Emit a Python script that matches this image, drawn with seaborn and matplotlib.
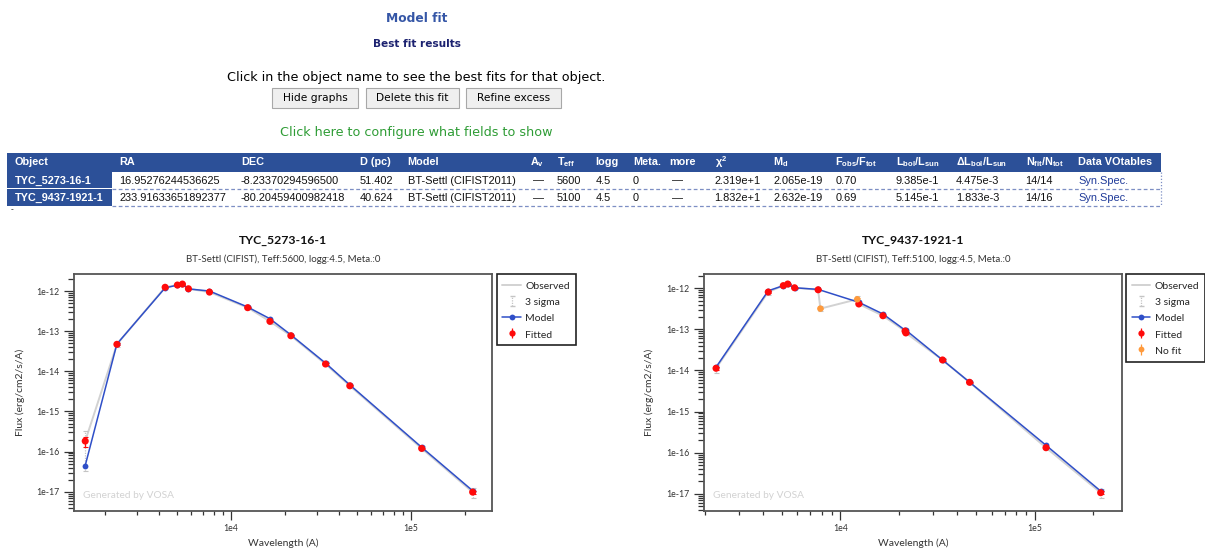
import numpy as np
import pandas as pd
import matplotlib
matplotlib.use("Agg")
import matplotlib.pyplot as plt
import matplotlib.ticker as mticker
import seaborn as sns
from matplotlib.lines import Line2D
from matplotlib.patches import Rectangle

# ---------------- data ----------------
table_columns = ["Object", "RA", "DEC", "D (pc)", "Model", "A$_{v}$", "T$_{eff}$", "logg", "Meta.",
                 "more", "χ$^{2}$", "M$_{d}$", "F$_{obs}$/F$_{tot}$", "L$_{bol}$/L$_{sun}$",
                 "ΔL$_{bol}$/L$_{sun}$", "N$_{fit}$/N$_{tot}$", "Data VOtables"]
table_row1 = ["TYC_5273-16-1", "16.95276244536625", "-8.23370294596500", "51.402", "BT-Settl (CIFIST2011)",
              "—", "5600", "4.5", "0", "—", "2.319e+1", "2.065e-19", "0.70", "9.385e-1", "4.475e-3",
              "14/14", "Syn.Spec."]
table_row2 = ["TYC_9437-1921-1", "233.91633651892377", "-80.20459400982418", "40.624", "BT-Settl (CIFIST2011)",
              "—", "5100", "4.5", "0", "—", "1.832e+1", "2.632e-19", "0.69", "5.145e-1", "1.833e-3",
              "14/16", "Syn.Spec."]
buttons = ["Hide graphs", "Delete this fit", "Refine excess"]

titles = ["TYC_5273-16-1", "TYC_9437-1921-1"]
subtitles = ["BT-Settl (CIFIST), Teff:5600, logg:4.5, Meta.:0",
             "BT-Settl (CIFIST), Teff:5100, logg:4.5, Meta.:0"]

# object 1 (all fitted)
wl1 = [1549, 2323, 4305, 5036, 5370, 5800, 7590, 12370, 16450, 21500, 33500, 45700, 114600, 220000]
obs1 = [1.83e-16, 4.7e-14, 1.24e-12, 1.41e-12, 1.49e-12, 1.14e-12, 9.4e-13, 3.85e-13, 1.76e-13,
        7.7e-14, 1.52e-14, 4.36e-15, 1.2e-16, 9.8e-18]
err1 = [5e-17, 2.5e-15, 4e-14, 3e-14, 4e-14, 1.5e-14, 2e-14, 1e-14, 8e-15, 3e-15, 6e-16, 1.5e-16,
        5e-18, 9e-19]
mod1 = [4.5e-17, 4.8e-14, 1.2e-12, 1.40e-12, 1.47e-12, 1.13e-12, 1.0e-12, 4.0e-13, 2.04e-13,
        8.1e-14, 1.6e-14, 4.6e-15, 1.28e-16, 1.06e-17]
wl1_nofit, obs1_nofit, err1_nofit = [], [], []

# object 2
wl2 = [2286, 4246, 5075, 5350, 5800, 7670, 12430, 16540, 21500, 21700, 33540, 46200, 114400, 218800]
obs2 = [1.13e-14, 8.1e-13, 1.16e-12, 1.27e-12, 1.03e-12, 9.2e-13, 4.15e-13, 2.15e-13, 9.1e-14,
        8.2e-14, 1.8e-14, 5.15e-15, 1.32e-16, 1.06e-17]
err2 = [8e-16, 4e-14, 2e-14, 3e-14, 1.5e-14, 1.5e-14, 1e-14, 8e-15, 4e-15, 3e-15, 6e-16, 1.2e-16,
        5e-18, 9e-19]
mod2 = [1.2e-14, 8.7e-13, 1.16e-12, 1.25e-12, 1.03e-12, 9.4e-13, 4.56e-13, 2.37e-13, 9.6e-14,
        9.6e-14, 1.8e-14, 5.2e-15, 1.51e-16, 1.16e-17]
wl2_nofit = [7880, 12200]
obs2_nofit = [3.2e-13, 5.4e-13]
err2_nofit = [1.4e-14, 3.7e-14]

# ---------------- style ----------------
W, H = 1205, 551
sns.set_style("ticks")
plt.rcParams["font.family"] = ["Lato", "DejaVu Sans"]
plt.rcParams.update({"mathtext.fontset": "custom", "mathtext.rm": "Liberation Sans:bold",
                     "mathtext.default": "rm"})

C_OBS = "#d2d2d2"
C_MOD = "#2f4fc8"
C_FIT = "#ff0a0a"
C_NOFIT = "#ff9a3c"
C_HEAD = "#2c5098"

fig = plt.figure(figsize=(W / 100, H / 100), dpi=100)


def fx(x):
    return x / W


def fy(y):
    return 1 - y / H


def ftext(x, y, s, **kw):
    kw.setdefault("va", "center")
    fig.text(fx(x), fy(y), s, **kw)


def frect(x0, y0, x1, y1, **kw):
    fig.add_artist(Rectangle((fx(x0), fy(y1)), (x1 - x0) / W, (y1 - y0) / H,
                             transform=fig.transFigure, **kw))


# ---------------- page header ----------------
WEB = ["DejaVu Sans"]
ftext(416.5, 19, "Model fit", ha="center", fontsize=8.8, fontweight="bold", color="#3556a6", family=WEB)
ftext(416.5, 44, "Best fit results", ha="center", fontsize=7.6, fontweight="bold", color="#1c2270", family=WEB)
ftext(416, 77.5, "Click in the object name to see the best fits for that object.", ha="center",
      fontsize=9.2, color="black", family=WEB)
btn_x = [(272.3, 357.7), (365.7, 458.7), (466.3, 560.7)]
for (x0, x1), lab in zip(btn_x, buttons):
    frect(x0, 88.3, x1, 107.7, facecolor="#efefef", edgecolor="#a8a8a8", lw=0.8)
    ftext((x0 + x1) / 2, 98.2, lab, ha="center", fontsize=7.7, color="black", family=WEB)
ftext(416, 132.5, "Click here to configure what fields to show", ha="center", fontsize=9.2,
      color="#2e9c35", family=WEB)

# ---------------- table ----------------
TAB = ["Liberation Sans", "DejaVu Sans"]
col_x = [15, 119, 241, 359.5, 407.5, 530, 557, 595.5, 632.8, 669.2, 714.6, 773, 835.4, 896, 956, 1025.5, 1078]
frect(7, 153.3, 1160.7, 171.7, facecolor=C_HEAD, edgecolor="none")
frect(7, 171.7, 111.7, 188.4, facecolor=C_HEAD, edgecolor="none")
frect(7, 189.4, 111.7, 206.2, facecolor=C_HEAD, edgecolor="none")
for yl in (188.8, 206.4):
    fig.add_artist(Line2D([fx(111.7), fx(1160.7)], [fy(yl), fy(yl)], transform=fig.transFigure,
                          color="#7d8fc4", lw=0.9, ls=(0, (3, 2))))
fig.add_artist(Line2D([fx(1160.7), fx(1160.7)], [fy(171.7), fy(206.4)], transform=fig.transFigure,
                      color="#7d8fc4", lw=0.9, ls=(0, (1, 1.5))))
for x, c in zip(col_x, table_columns):
    ftext(x, 162.3, c, ha="left", fontsize=7.8, fontweight="bold", color="white", family=TAB)
for yrow, row in ((180.6, table_row1), (197.7, table_row2)):
    for i, (x, v) in enumerate(zip(col_x, row)):
        if i == 0:
            ftext(x, yrow, v, ha="left", fontsize=7.8, fontweight="bold", color="white", family=TAB)
        elif i == len(row) - 1:
            ftext(x, yrow, v, ha="left", fontsize=7.9, color="#1f3a99", family=TAB)
        else:
            ftext(x + (3 if v == "—" else 0), yrow, v, ha="left", fontsize=7.9, color="#111111", family=TAB)
ftext(11, 210, "-", ha="left", fontsize=6, color="black", family=TAB)


# ---------------- SED panels ----------------
def sed_panel(ax, wl_fit, obs_fit, err_fit, mod_fit, wl_nf, obs_nf, err_nf, xlim, ylim):
    ax.set_xscale("log")
    ax.set_yscale("log")
    all_wl = np.r_[wl_fit, wl_nf]
    all_obs = np.r_[obs_fit, obs_nf]
    all_err = np.r_[err_fit, err_nf]
    obs_df = pd.DataFrame({"wl": all_wl, "flux": all_obs})
    sns.lineplot(data=obs_df, x="wl", y="flux", color=C_OBS, lw=1.4, estimator=None, sort=True,
                 ax=ax, zorder=1)
    e3 = ax.errorbar(all_wl, all_obs, yerr=3 * all_err, fmt="none", ecolor="#c4c4c4", elinewidth=0.9,
                     capsize=1.8, capthick=0.8, zorder=2)
    e3[2][0].set_linestyle((0, (1, 1)))
    mod_df = pd.DataFrame({"wl": wl_fit, "flux": mod_fit})
    sns.lineplot(data=mod_df, x="wl", y="flux", color=C_MOD, lw=1.1, marker="o", markersize=4.2,
                 markeredgewidth=0, estimator=None, sort=True, ax=ax, zorder=3)
    ax.errorbar(wl_fit, obs_fit, yerr=err_fit, fmt="none", ecolor=C_FIT, elinewidth=0.9, capsize=1.8,
                capthick=0.8, zorder=4)
    sns.scatterplot(x=list(wl_fit), y=list(obs_fit), color=C_FIT, s=26, edgecolor="none", ax=ax, zorder=5)
    if len(wl_nf):
        ax.errorbar(wl_nf, obs_nf, yerr=err_nf, fmt="none", ecolor=C_NOFIT, elinewidth=0.9, capsize=1.8,
                    capthick=0.8, zorder=4)
        sns.scatterplot(x=list(wl_nf), y=list(obs_nf), color=C_NOFIT, s=22, edgecolor="none", ax=ax, zorder=5)
    ax.set_xlim(*xlim)
    ax.set_ylim(*ylim)
    ax.xaxis.set_major_locator(mticker.FixedLocator([1e4, 1e5]))
    ax.xaxis.set_major_formatter(mticker.FixedFormatter(["1e4", "1e5"]))
    ax.xaxis.set_minor_locator(mticker.LogLocator(base=10, subs=np.arange(2, 10), numticks=30))
    ax.xaxis.set_minor_formatter(mticker.NullFormatter())
    ax.yaxis.set_major_locator(mticker.LogLocator(base=10, numticks=30))
    ax.yaxis.set_major_formatter(mticker.FuncFormatter(lambda v, p: "1e%d" % int(round(np.log10(v)))))
    ax.yaxis.set_minor_locator(mticker.LogLocator(base=10, subs=np.arange(2, 10), numticks=30))
    ax.yaxis.set_minor_formatter(mticker.NullFormatter())
    ax.tick_params(which="major", direction="out", length=7.5, width=0.9, labelsize=6.3, pad=3,
                   color="#333333", labelcolor="#333333")
    ax.tick_params(which="minor", direction="out", length=4, width=0.9, color="#333333")
    ax.tick_params(axis="x", which="major", length=6.5)
    ax.tick_params(axis="x", which="minor", length=3)
    for s in ax.spines.values():
        s.set_color("#555555")
        s.set_linewidth(1.3)
    ax.text(0.022, 0.063, "Generated by VOSA", transform=ax.transAxes, fontsize=7.3, color="#d2d2d2",
            va="center", ha="left")


def legend_for(ax, with_nofit, x_left):
    hnan = [np.nan]
    h3 = ax.errorbar(hnan, hnan, yerr=hnan, fmt="none", ecolor="#c4c4c4", elinewidth=0.9, capsize=1.8)
    h3[2][0].set_linestyle((0, (1, 1)))
    hf = ax.errorbar(hnan, hnan, yerr=hnan, fmt="o", color=C_FIT, ms=4.5, mew=0, elinewidth=0.9, capsize=1.8)
    handles = [Line2D([], [], color=C_OBS, lw=1.4), h3,
               Line2D([], [], color=C_MOD, lw=1.1, marker="o", ms=4.2, mew=0), hf]
    labels = ["Observed", "3 sigma", "Model", "Fitted"]
    if with_nofit:
        hn = ax.errorbar(hnan, hnan, yerr=hnan, fmt="o", color=C_NOFIT, ms=4.2, mew=0, elinewidth=0.9,
                         capsize=1.8)
        handles.append(hn)
        labels.append("No fit")
    leg = ax.legend(handles, labels, loc="upper left", bbox_to_anchor=(fx(x_left), fy(274.3)),
                    bbox_transform=fig.transFigure, frameon=True, fancybox=False, edgecolor="#222222",
                    fontsize=7.5, borderaxespad=0, borderpad=0.55, handlelength=1.75, handletextpad=0.45,
                    handleheight=1.25, labelspacing=0.5, framealpha=1)
    leg.get_frame().set_linewidth(1.2)


panels = [
    dict(ax_x=(74.3, 492.3), leg_x=496.7, wl=wl1, obs=obs1, err=err1, mod=mod1,
         wlnf=wl1_nofit, obsnf=obs1_nofit, errnf=err1_nofit,
         xlim=(1347, 282900), ylim=(3.37e-18, 2.61e-12), ylab_x=20),
    dict(ax_x=(704.3, 1121.7), leg_x=1126, wl=wl2, obs=obs2, err=err2, mod=mod2,
         wlnf=wl2_nofit, obsnf=obs2_nofit, errnf=err2_nofit,
         xlim=(1989, 280800), ylim=(3.86e-18, 2.19e-12), ylab_x=649),
]
AX_TOP, AX_BOT = 274.3, 510.7
for i, p in enumerate(panels):
    x0, x1 = p["ax_x"]
    aw, ah = x1 - x0, AX_BOT - AX_TOP
    ax = fig.add_axes([fx(x0), fy(AX_BOT), aw / W, ah / H])
    sed_panel(ax, p["wl"], p["obs"], p["err"], p["mod"], p["wlnf"], p["obsnf"], p["errnf"], p["xlim"], p["ylim"])
    legend_for(ax, len(p["wlnf"]) > 0, p["leg_x"])
    ax.set_xlabel("Wavelength (A)", fontsize=7.5, color="#333333")
    ax.xaxis.label.set_va("center")
    ax.xaxis.set_label_coords(0.5, -(543.0 - AX_BOT) / ah)
    ax.set_ylabel("Flux (erg/cm2/s/A)", fontsize=7.5, color="#333333")
    ax.yaxis.label.set_va("center")
    ax.yaxis.label.set_ha("center")
    ax.yaxis.set_label_coords((p["ylab_x"] - x0) / aw, 0.5)
    cx = (x0 + x1) / 2
    ftext(cx, 240.7, titles[i], ha="center", fontsize=8.8, fontweight="bold", color="#111111")
    ftext(cx, 259.3, subtitles[i], ha="center", fontsize=7, color="#333333")

fig.savefig("out.png", dpi=100)
